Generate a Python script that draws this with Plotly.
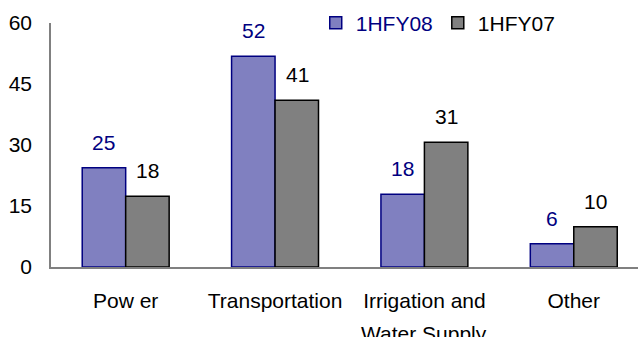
import plotly.graph_objects as go

categories = ["Pow er", "Transportation", "Irrigation and\nWater Supply", "Other"]
series_names = ["1HFY08", "1HFY07"]
values_fy08 = [24.4, 51.8, 17.9, 5.7]
values_fy07 = [17.4, 41.0, 30.7, 9.9]
labels_fy08 = ["25", "52", "18", "6"]
labels_fy07 = ["18", "41", "31", "10"]
y_ticks = [0, 15, 30, 45, 60]

FONT = "Liberation Sans, Arial, sans-serif"
FS = 21
C08_TEXT = "#000080"

first_lines = [c.split("\n")[0] for c in categories]

fig = go.Figure()
fig.add_trace(go.Bar(
    name=f"<span style='color:{C08_TEXT}'>{series_names[0]}</span>", x=first_lines, y=values_fy08,
    marker=dict(color="#8080C0", line=dict(color="#000080", width=1.5)),
))
fig.add_trace(go.Bar(
    name=series_names[1], x=first_lines, y=values_fy07,
    marker=dict(color="#808080", line=dict(color="#000000", width=1.5)),
))

annotations = []
for i, cat in enumerate(first_lines):
    annotations.append(dict(x=cat, y=values_fy08[i], xref="x", yref="y",
                            text=labels_fy08[i], showarrow=False, xshift=-22, yshift=12,
                            yanchor="bottom", font=dict(family=FONT, size=FS, color=C08_TEXT)))
    annotations.append(dict(x=cat, y=values_fy07[i], xref="x", yref="y",
                            text=labels_fy07[i], showarrow=False, xshift=22, yshift=12,
                            yanchor="bottom", font=dict(family=FONT, size=FS, color="#000000")))
# extra label lines (second line of wrapped category names)
for i, c in enumerate(categories):
    parts = c.split("\n")
    for k, line in enumerate(parts[1:], start=1):
        annotations.append(dict(x=first_lines[i], y=0, xref="x", yref="y", text=line,
                                showarrow=False, yanchor="top", yshift=-(16 + 37 * k),
                                font=dict(family=FONT, size=FS, color="#000000")))

fig.update_layout(
    width=638, height=337,
    margin=dict(l=51, r=0, t=23, b=70, autoexpand=False),
    paper_bgcolor="white", plot_bgcolor="white",
    barmode="group", bargap=0.418, bargroupgap=0,
    font=dict(family=FONT, size=FS, color="#000000"),
    showlegend=True,
    legend=dict(orientation="h", x=0.451, xanchor="left", y=1.0, yanchor="middle",
                font=dict(family=FONT, size=FS, color="#000000"),
                bgcolor="rgba(0,0,0,0)", itemwidth=30, traceorder="normal"),
    annotations=annotations,
)
fig.update_xaxes(range=[-0.5, 3.43], showline=True, linecolor="#808080", linewidth=1.5,
                 showgrid=False, ticks="", ticklabelstandoff=14, automargin=False,
                 tickfont=dict(family=FONT, size=FS, color="#000000"))
fig.update_yaxes(range=[0, 60], tickvals=y_ticks, showline=True, linecolor="#808080",
                 linewidth=1.5, showgrid=False, zeroline=False, ticks="", ticklabelstandoff=13,
                 automargin=False, tickfont=dict(family=FONT, size=FS, color="#000000"))

fig.write_html("out.html", config={"displayModeBar": False},
               post_script="document.body.style.margin='0';document.body.style.overflow='hidden';")
